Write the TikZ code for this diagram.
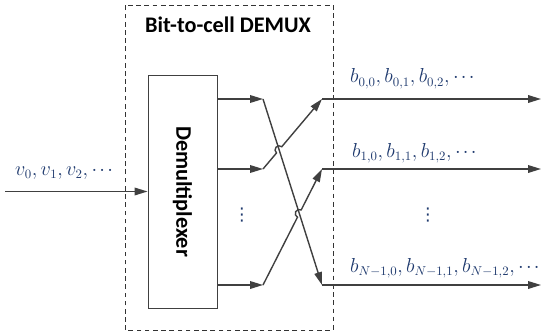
\documentclass[tikz,border=0pt]{standalone}
\usepackage{fontspec}
\newfontfamily\labelfont{Carlito}
\newfontfamily\symfont{DejaVu Sans}
\usetikzlibrary{positioning, arrows.meta, calc, intersections}
\definecolor{linegray}{HTML}{404040}
\definecolor{labelblue}{HTML}{1F3A6E}
\newcommand{\tdots}{\mathinner{\cdotp\mkern-1mu\cdotp\mkern-1mu\cdotp}}

\begin{document}
\begin{tikzpicture}[
    x=0.03cm, y=0.03cm,
    font=\fontsize{16}{20}\selectfont,
    box/.style={
        rectangle,
        draw=linegray,
        line width=0.8pt,
        minimum width=2.07cm,
        minimum height=6.99cm,
        inner sep=0pt
    },
    frame/.style={draw=black!80, dash pattern=on 4pt off 3pt, line width=0.6pt},
    arrow/.style={-{Triangle[length=11pt,width=6.5pt]}, draw=linegray, line width=1.2pt},
    seq/.style={text=labelblue, anchor=base west, inner sep=0pt},
    heading/.style={font=\labelfont\bfseries\fontsize{19}{22}\selectfont},
    gap/.style={text=labelblue, font=\symfont\fontsize{15}{18}\selectfont}
]
\useasboundingbox (0,0) rectangle (543,332);

% dashed block
\draw[frame] (125,2) rectangle (333,327);
\node[heading] (title) at (228,307) {Bit-to-cell DEMUX};

\node[box] (demux) at (182.5,140.5) {};
\node[heading, rotate=-90] (demuxlabel) at (demux.center) {Demultiplexer};

% input stream
\coordinate (in) at (5,140.5);
\draw[arrow] (in) -- (demux.west);
\node[seq] (v) at (15,157) {$v_0, v_1, v_2, \tdots$};

% outputs
\foreach \i/\y in {1/233, 2/163, 3/47} {
    \coordinate (o\i) at (263,\y);
    \coordinate (r\i) at (322,\y);
    \coordinate (e\i) at (541,\y);
    \draw[arrow] (demux.east |- o\i) -- (o\i);
    \draw[arrow] (r\i) -- (e\i);
}

% crossings
\path[name path=down] (o1) -- (r3);
\path[name path=up1] (o2) -- (r1);
\path[name path=up2] (o3) -- (r2);
\path[name intersections={of=down and up1, by=x1}];
\path[name intersections={of=down and up2, by=x2}];

\draw[arrow] (o1) -- (r3);
\draw[arrow] let \p1=($(r1)-(o2)$), \n1={atan2(\y1,\x1)} in
    (o2) -- ($(x1)!3.5pt!(o2)$) arc[start angle=\n1+180, end angle=\n1, radius=3.5pt] -- (r1);
\draw[arrow] let \p1=($(r2)-(o3)$), \n1={atan2(\y1,\x1)} in
    (o3) -- ($(x2)!3.5pt!(o3)$) arc[start angle=\n1+180, end angle=\n1, radius=3.5pt] -- (r2);

\node[gap] (ldots) at (242,117) {⋮};
\node[gap] (rdots) at (428,117) {⋮};

\node[seq] (b0) at (350,249) {$b_{0,0}, b_{0,1}, b_{0,2}, \tdots$};
\node[seq] (b1) at (352,175) {$b_{1,0}, b_{1,1}, b_{1,2}, \tdots$};
\node[seq] (bN) at (350,60) {$b_{N-1,0}, b_{N-1,1}, b_{N-1,2}, \tdots$};

\end{tikzpicture}
\end{document}
